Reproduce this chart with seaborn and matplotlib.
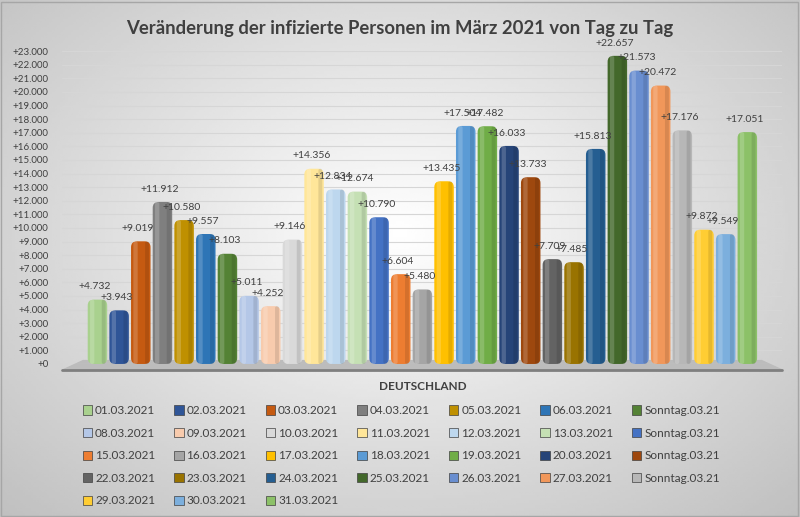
import matplotlib.pyplot as plt
import matplotlib.patches as mpatches
import pandas as pd
import seaborn as sns
import numpy as np

# data
tage = ["01.03.2021", "02.03.2021", "03.03.2021", "04.03.2021", "05.03.2021", "06.03.2021", "Sonntag.03.21",
        "08.03.2021", "09.03.2021", "10.03.2021", "11.03.2021", "12.03.2021", "13.03.2021", "Sonntag.03.21",
        "15.03.2021", "16.03.2021", "17.03.2021", "18.03.2021", "19.03.2021", "20.03.2021", "Sonntag.03.21",
        "22.03.2021", "23.03.2021", "24.03.2021", "25.03.2021", "26.03.2021", "27.03.2021", "Sonntag.03.21",
        "29.03.2021", "30.03.2021", "31.03.2021"]
werte = [4732, 3943, 9019, 11912, 10580, 9557, 8103,
         5011, 4252, 9146, 14356, 12834, 12674, 10790,
         6604, 5480, 13435, 17504, 17482, 16033, 13733,
         7709, 7485, 15813, 22657, 21573, 20472, 17176,
         9872, 9549, 17051]
farben = ["#A9D18E", "#2F5597", "#C55A11", "#7F7F7F", "#BF9000", "#2E75B6", "#548235",
          "#B4C7E7", "#F8CBAD", "#D9D9D9", "#FFE699", "#BDD7EE", "#C5E0B4", "#4472C4",
          "#ED7D31", "#A5A5A5", "#FFC000", "#5B9BD5", "#70AD47", "#264478", "#9E480E",
          "#636363", "#997300", "#255E91", "#43682B", "#698ED0", "#F1975A", "#B7B7B7",
          "#FFCD33", "#7CAFDD", "#8CC168"]

sns.set_theme(style="white")
plt.rcParams['font.family'] = ['Lato', 'DejaVu Sans']

keys = ["%02d" % (i + 1) for i in range(len(werte))]
df = pd.DataFrame({"Land": "DEUTSCHLAND", "Tag": keys, "Wert": werte})

fig = plt.figure(figsize=(8, 5.17), dpi=100)

# background gradient
bg = fig.add_axes([0, 0, 1, 1], zorder=-10)
yy, xx = np.mgrid[0:1:200j, 0:1:300j]
grad = 1 - 0.26 * np.sqrt(((xx - 0.5) / 0.75) ** 2 + ((yy - 0.45) / 0.8) ** 2)
bg.imshow(grad, cmap="gray", vmin=0, vmax=1.0, aspect="auto", extent=[0, 1, 0, 1])
bg.set_axis_off()
fig.patches.append(mpatches.Rectangle((0.001, 0.002), 0.997, 0.995, transform=fig.transFigure,
                                      fill=False, edgecolor="#A6A6A6", linewidth=1))

ax = fig.add_axes([0.078, 0.296, 0.9, 0.605])
ax.patch.set_alpha(0)
sns.barplot(data=df, x="Land", y="Wert", hue="Tag", palette=farben, width=0.97, gap=0.1,
            legend=False, ax=ax, saturation=1, edgecolor="none")

ax.set_ylim(0, 23000)
ax.set_xlim(-0.52, 0.52)
ax.set_yticks(range(0, 23001, 1000))
ax.set_yticklabels(["+0"] + ["+{:,}".format(v).replace(",", ".") for v in range(1000, 23001, 1000)],
                   fontsize=7, color="#404040")
ax.yaxis.grid(True, color="#D6D6D6", linewidth=0.8)
ax.set_axisbelow(True)
ax.tick_params(axis="y", length=0, pad=10)
ax.tick_params(axis="x", length=0, pad=12)
for lbl in ax.get_xticklabels():
    lbl.set_fontweight("bold")
    lbl.set_fontsize(8.5)
    lbl.set_color("#404040")
ax.set_xlabel("")
ax.set_ylabel("")
for s in ax.spines.values():
    s.set_visible(False)

# floor
ax.fill([-0.52, 0.52, 0.49, -0.49], [-450, -450, 250, 250], color="#BCBCBC", zorder=0.5, clip_on=False)
ax.plot([-0.52, 0.52], [-450, -450], color="#7F7F7F", linewidth=2, clip_on=False)

# rounded, slightly shaded bars (cylinder look like the Excel chart)
fig.canvas.draw()
p0 = ax.transData.transform((0, 0))
p1 = ax.transData.transform((1, 1000))
aspect = (1000 / (p1[1] - p0[1])) / (1 / (p1[0] - p0[0]))
bars = list(ax.patches)[:len(werte)]
for bar, w, c in zip(bars, werte, farben):
    x, bw = bar.get_x(), bar.get_width()
    bar.set_visible(False)
    ax.add_patch(mpatches.FancyBboxPatch((x, 0), bw, w, boxstyle="round,pad=0,rounding_size=%f" % (bw * 0.3),
                                         mutation_aspect=aspect, facecolor=c, edgecolor="none", zorder=2))
    ax.add_patch(mpatches.FancyBboxPatch((x + bw * 0.12, 0), bw * 0.22, w,
                                         boxstyle="round,pad=0,rounding_size=%f" % (bw * 0.1),
                                         mutation_aspect=aspect, facecolor="white", alpha=0.18,
                                         edgecolor="none", zorder=2.1))
    ax.add_patch(mpatches.FancyBboxPatch((x + bw * 0.72, 0), bw * 0.2, w,
                                         boxstyle="round,pad=0,rounding_size=%f" % (bw * 0.1),
                                         mutation_aspect=aspect, facecolor="black", alpha=0.1,
                                         edgecolor="none", zorder=2.1))
    ax.annotate("+{:,}".format(w).replace(",", "."), (x + bw / 2, w), xytext=(-2, 6),
                textcoords="offset points", ha="center", va="bottom", fontsize=7.5, color="#404040", zorder=3)

fig.suptitle("Veränderung der infizierte Personen im März 2021 von Tag zu Tag",
             fontsize=13.3, fontweight="bold", color="#404040", y=0.962)

# legend, row-wise like Excel
handles = [mpatches.Patch(facecolor=c, edgecolor="#404040", linewidth=0.5) for c in farben]
order = [r * 7 + c for c in range(7) for r in range(5) if r * 7 + c < len(werte)]
leg = fig.legend([handles[i] for i in order], [tage[i] for i in order], ncol=7,
                 loc="upper left", bbox_to_anchor=(0.09, 0.237), bbox_transform=fig.transFigure,
                 frameon=False, fontsize=8.5, handlelength=0.8, handleheight=0.8, handletextpad=0.25,
                 columnspacing=1.6, labelspacing=0.98)
for t in leg.get_texts():
    t.set_color("#404040")

fig.savefig("out.png", dpi=100)
